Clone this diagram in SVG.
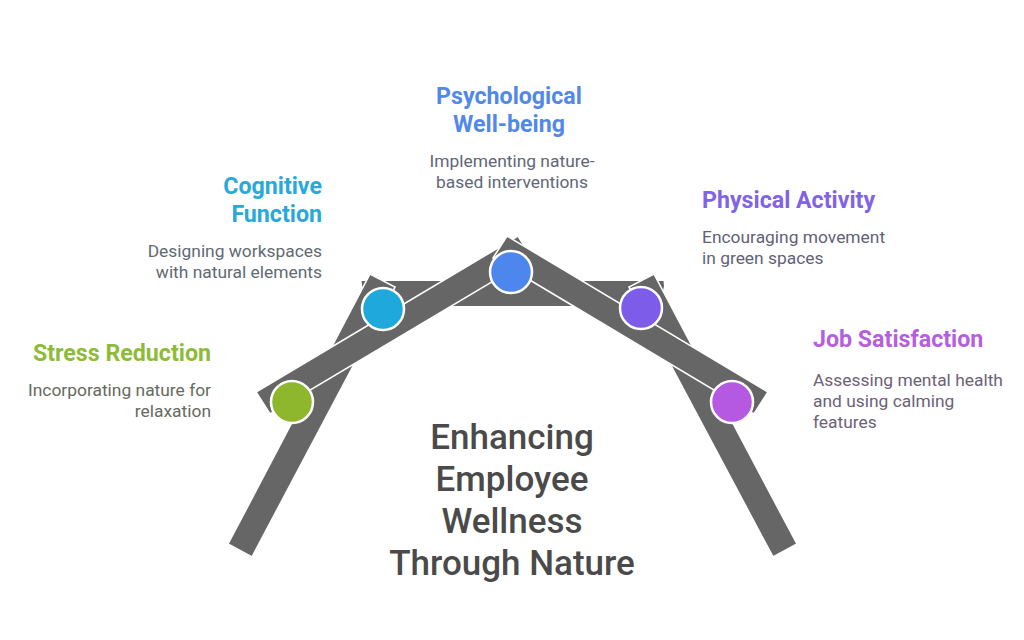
<svg xmlns="http://www.w3.org/2000/svg" width="1024" height="640" viewBox="0 0 1024 640">
<style>
text{font-family:Roboto,"Liberation Sans",sans-serif}
.t{font-size:23.2px;font-weight:700}
.d{font-size:17.4px}
.m{font-size:35px;font-weight:550;fill:#4a4a4a;text-anchor:middle}
.e{text-anchor:end}
.c{text-anchor:middle}
.s{fill:#666;stroke:#fff;stroke-width:1.6;stroke-linejoin:miter}
.n{stroke:#fff;stroke-width:2.5}
</style>
<rect width="1024" height="640" fill="#fff"/>
<g id="connectors">
<polygon points="361.500,281 663.500,281 664,286 660,306 365,306" fill="#666"/>
<polygon class="s" points="370,274 395,287 252,557 228,544"/>
<polygon class="s" points="654,274 797,544 773,557 629,287"/>
<polygon class="s" points="256,392 518,236 532,258 270,414"/>
<polygon class="s" points="507,236 768,392 754,414 493,258"/>
</g>
<g id="stress-reduction">
<circle class="n" cx="292" cy="402" r="21" fill="#8fb72e"/>
<text class="t e" x="211" y="360.500" fill="#8fbb3a">Stress Reduction</text>
<text class="d e" fill="#666a5e"><tspan x="211" y="396">Incorporating nature for</tspan><tspan x="211" y="417">relaxation</tspan></text>
</g>
<g id="cognitive-function">
<circle class="n" cx="383" cy="309" r="21" fill="#1ea8dc"/>
<text class="t e" fill="#28a9da"><tspan x="322" y="193.500">Cognitive</tspan><tspan x="322" y="221.500">Function</tspan></text>
<text class="d e" fill="#5f6a72"><tspan x="322" y="257">Designing workspaces</tspan><tspan x="322" y="278">with natural elements</tspan></text>
</g>
<g id="psychological-well-being">
<circle class="n" cx="511" cy="272" r="21" fill="#4d86ec"/>
<text class="t c" fill="#5288e8"><tspan x="509" y="103.500">Psychological</tspan><tspan x="509" y="131.500">Well-being</tspan></text>
<text class="d c" fill="#5f6677"><tspan x="512" y="167">Implementing nature-</tspan><tspan x="512" y="188">based interventions</tspan></text>
</g>
<g id="physical-activity">
<circle class="n" cx="641" cy="308" r="21" fill="#7c5ce8"/>
<text class="t" x="702" y="207.500" fill="#8063e6">Physical Activity</text>
<text class="d" fill="#635f77"><tspan x="702" y="243">Encouraging movement</tspan><tspan x="702" y="264">in green spaces</tspan></text>
</g>
<g id="job-satisfaction">
<circle class="n" cx="732" cy="402" r="21" fill="#b558e2"/>
<text class="t" x="813" y="346.500" fill="#b55fdf">Job Satisfaction</text>
<text class="d" fill="#6d6177"><tspan x="813" y="386">Assessing mental health</tspan><tspan x="813" y="407">and using calming</tspan><tspan x="813" y="428">features</tspan></text>
</g>
<g id="title">
<text class="m"><tspan x="512" y="449">Enhancing</tspan><tspan x="512" y="491">Employee</tspan><tspan x="512" y="533">Wellness</tspan><tspan x="512" y="575">Through Nature</tspan></text>
</g>
</svg>
